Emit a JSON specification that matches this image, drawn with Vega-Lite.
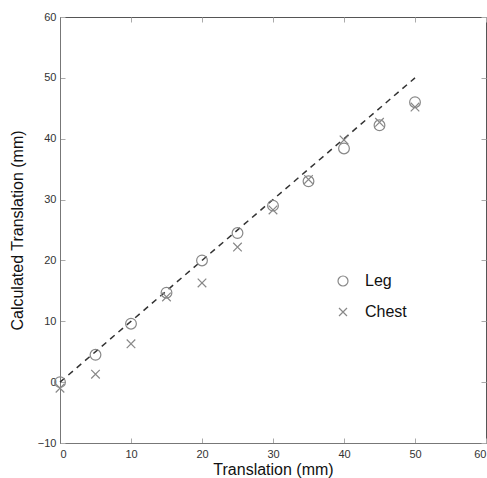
{
  "$schema": "https://vega.github.io/schema/vega-lite/v6.json",
  "width": 426,
  "height": 426,
  "autosize": "none",
  "padding": {"left": 60, "top": 17, "right": 1, "bottom": 35},
  "background": "white",
  "config": {
    "view": {"stroke": "#555", "strokeWidth": 1},
    "font": "Liberation Sans",
    "axis": {
      "grid": false,
      "domainColor": "#777",
      "tickColor": "#aaa",
      "tickSize": -5,
      "labelColor": "#333",
      "labelFontSize": 11,
      "labelFont": "Liberation Sans",
      "titleFont": "Liberation Sans",
      "titleFontSize": 16,
      "titleFontWeight": "normal",
      "titleColor": "#111"
    }
  },
  "datasets": {
    "pts": [
      {"t": 0, "v": 0, "s": "Leg"},
      {"t": 5, "v": 4.5, "s": "Leg"},
      {"t": 10, "v": 9.6, "s": "Leg"},
      {"t": 15, "v": 14.7, "s": "Leg"},
      {"t": 20, "v": 20, "s": "Leg"},
      {"t": 25, "v": 24.5, "s": "Leg"},
      {"t": 30, "v": 29, "s": "Leg"},
      {"t": 35, "v": 33, "s": "Leg"},
      {"t": 40, "v": 38.4, "s": "Leg"},
      {"t": 45, "v": 42.2, "s": "Leg"},
      {"t": 50, "v": 46, "s": "Leg"},
      {"t": 0, "v": -1, "s": "Chest"},
      {"t": 5, "v": 1.3, "s": "Chest"},
      {"t": 10, "v": 6.3, "s": "Chest"},
      {"t": 15, "v": 14, "s": "Chest"},
      {"t": 20, "v": 16.3, "s": "Chest"},
      {"t": 25, "v": 22.2, "s": "Chest"},
      {"t": 30, "v": 28.3, "s": "Chest"},
      {"t": 35, "v": 33.3, "s": "Chest"},
      {"t": 40, "v": 39.8, "s": "Chest"},
      {"t": 45, "v": 42.7, "s": "Chest"},
      {"t": 50, "v": 45.2, "s": "Chest"}
    ],
    "ideal": [
      {"t": 0, "v": 0},
      {"t": 50, "v": 50}
    ]
  },
  "layer": [
    {
      "data": {"name": "ideal"},
      "mark": {"type": "line", "color": "#333", "strokeWidth": 1.5, "strokeDash": [6, 5]},
      "encoding": {
        "x": {"field": "t", "type": "quantitative", "scale": {"domain": [0, 60], "nice": false},
          "axis": {"orient": "top", "labels": false, "title": null, "domain": false, "values": [0,10,20,30,40,50,60]}},
        "y": {"field": "v", "type": "quantitative", "scale": {"domain": [-10, 60], "nice": false},
          "axis": {"orient": "right", "labels": false, "title": null, "domain": false, "values": [-10,0,10,20,30,40,50,60]}}
      }
    },
    {
      "data": {"name": "pts"},
      "mark": {"type": "point", "filled": false, "strokeWidth": 1.2, "size": 115, "opacity": 1, "color": "#888"},
      "encoding": {
        "x": {"field": "t", "type": "quantitative", "scale": {"domain": [0, 60], "nice": false},
          "axis": {"orient": "bottom", "title": "Translation (mm)", "values": [0,10,20,30,40,50,60], "labelPadding": 10, "titlePadding": 2}},
        "y": {"field": "v", "type": "quantitative", "scale": {"domain": [-10, 60], "nice": false},
          "axis": {"orient": "left", "title": "Calculated Translation (mm)", "values": [-10,0,10,20,30,40,50,60], "labelPadding": 9, "titlePadding": 12}},
        "shape": {
          "field": "s", "type": "nominal",
          "scale": {"domain": ["Leg", "Chest"], "range": ["circle", "M-0.8,-0.8L0.8,0.8M-0.8,0.8L0.8,-0.8"]},
          "legend": {
            "orient": "none", "legendX": 275, "legendY": 256, "title": null,
            "labelFontSize": 16, "labelFont": "Liberation Sans", "labelColor": "#111",
            "symbolStrokeColor": "#888", "symbolFillColor": "transparent", "symbolSize": 100, "symbolStrokeWidth": 1.2,
            "rowPadding": 15, "labelOffset": 14
          }
        }
      }
    }
  ],
  "resolve": {"axis": {"x": "independent", "y": "independent"}}
}
